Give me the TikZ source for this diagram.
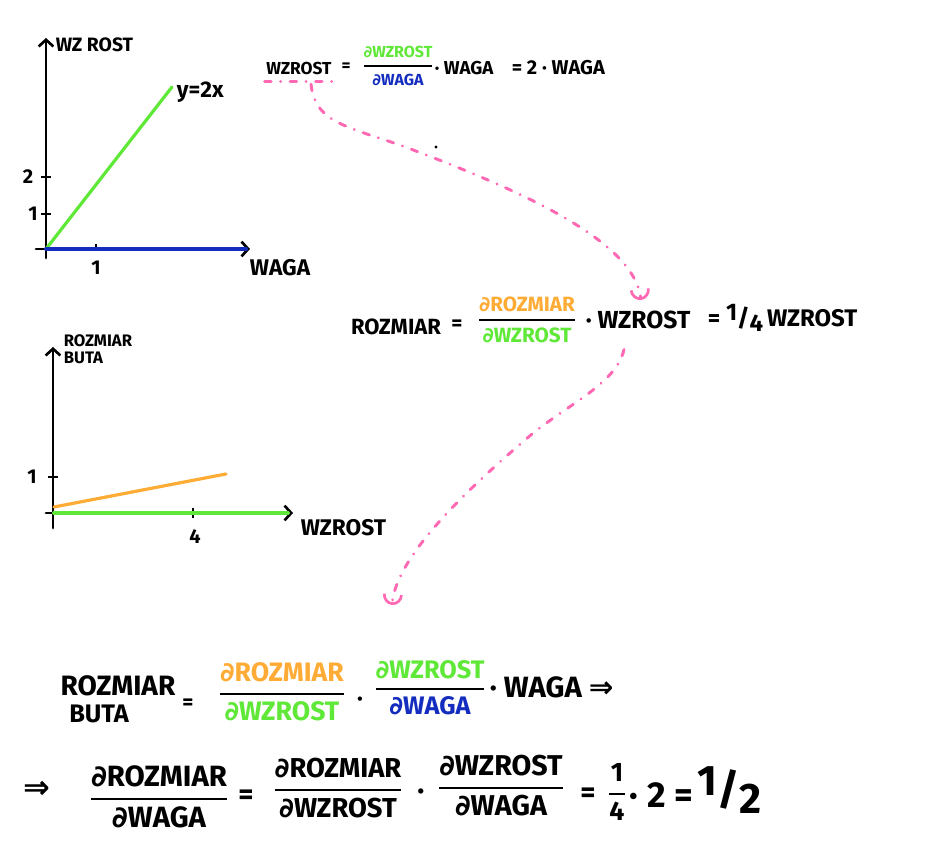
\documentclass[tikz,border=0pt]{standalone}
\usepackage{fontspec}
\usepackage{amsmath}
\setmainfont{Fira Sans}
\newfontfamily\symf{DejaVu Sans}
\usetikzlibrary{arrows.meta}
\definecolor{handgreen}{RGB}{95,232,55}
\definecolor{handblue}{RGB}{20,45,190}
\definecolor{handorange}{RGB}{255,172,55}
\definecolor{handpink}{RGB}{255,105,180}
\newcommand\pd{{\symf\bfseries ∂}}
\newcommand\hfrac[4]{$\genfrac{}{}{1.7pt}{0}{\textcolor{#3}{\text{#1}}}{\textcolor{#4}{\text{#2}}}$}
\tikzset{
  axis line/.style = {line width = 2.2pt, line cap = round, ->},
  plot line/.style = {draw = #1, line width = 2.4pt, line cap = round},
  hand/.style = {font = \fontsize{#1}{#1}\selectfont\bfseries, inner sep = 1pt},
  pink hint/.style = {handpink, line width = 2.2pt, line cap = round,
    dash pattern = on 5pt off 7pt on 0.1pt off 7pt}
}
\begin{document}
\begin{tikzpicture}[x = 0.75pt, y = -0.75pt, thick, nodes = {align = center},
  >={Straight Barb[length = 5pt, width = 11pt, line width = 2pt]}]
  \useasboundingbox (0,0) rectangle (933,848);
  % first plot
  \draw[axis line] (46,258) -- (46,38);
  \draw[axis line] (36,249) -- (250,249);
  \draw[line width = 2pt] (41,177) -- (51,177) (41,214) -- (51,214) (96,244) -- (96,249);
  \draw[plot line = handgreen] (46,249) -- (172,87);
  \draw[plot line = handblue, line width = 3pt] (46,249) -- (246,249);
  \node[hand = 14.5, anchor = west] (ylab1) at (54,45) {WZ ROST};
  \node[hand = 17, anchor = west] (fun1) at (175,92) {y=2x};
  \node[hand = 15] (tick2) at (28,177) {2};
  \node[hand = 15] (tick1) at (33,214) {1};
  \node[hand = 15] (xtick1) at (96,268) {1};
  \node[hand = 17, anchor = west] (xlab1) at (248,268) {WAGA};
  % second plot
  \draw[axis line] (53,528) -- (53,347);
  \draw[axis line] (46,513) -- (293,513);
  \draw[line width = 2pt] (48,477) -- (58,477) (193,508) -- (193,518);
  \draw[plot line = handorange] (54,507) -- (226,474);
  \draw[plot line = handgreen, line width = 3pt] (54,513) -- (288,513);
  \node[hand = 12.5, anchor = north west, align = left] (ylab2) at (62,333) {ROZMIAR\\BUTA};
  \node[hand = 15] (ytick2) at (32,477) {1};
  \node[hand = 15] (xtick2) at (195,537) {4};
  \node[hand = 17, anchor = west] (xlab2) at (299,528) {WZROST};
  % first equation
  \node[hand = 13] (e1lhs) at (299,68) {WZROST};
  \node[hand = 13] (e1eq) at (346,67) {=};
  \node[hand = 12] (e1frac) at (398,66) {\hfrac{\pd WZROST}{\pd WAGA}{handgreen}{handblue}};
  \node[hand = 14, anchor = west] (e1dot) at (433,68) {· WAGA};
  \node[hand = 15, anchor = west] (e1res) at (510,68) {= 2 · WAGA};
  % second equation
  \node[hand = 16.5] (e2lhs) at (396,327) {ROZMIAR};
  \node[hand = 16] (e2eq) at (457,325) {=};
  \node[hand = 15.5] (e2frac) at (527,320) {\hfrac{\pd ROZMIAR}{\pd WZROST}{handorange}{handgreen}};
  \node[hand = 18.5, anchor = west] (e2dot) at (584,320) {· WZROST};
  \node[hand = 18, anchor = west] (e2res) at (706,318)
    {= \raisebox{0.45ex}{1}/\raisebox{-0.45ex}{4}\,WZROST};
  % third equation
  \node[hand = 21] (e3lhs) at (118,686) {ROZMIAR};
  \node[hand = 19] (e3buta) at (99,714) {BUTA};
  \node[hand = 16] (e3eq) at (188,704) {=};
  \node[hand = 20] (e3fracA) at (282,692) {\hfrac{\pd ROZMIAR}{\pd WZROST}{handorange}{handgreen}};
  \node[hand = 18] (e3dotA) at (360,702) {·};
  \node[hand = 19] (e3fracB) at (430,688) {\hfrac{\pd WZROST}{\pd WAGA}{handgreen}{handblue}};
  \node[hand = 22, anchor = west] (e3rest) at (488,687) {· WAGA {\symf\bfseries ⇒}};
  % fourth equation
  \node[hand = 24] (e4imp) at (37,790) {\symf\bfseries ⇒};
  \node[hand = 22] (e4fracA) at (159,797) {\hfrac{\pd ROZMIAR}{\pd WAGA}{black}{black}};
  \node[hand = 22] (e4eq) at (246,797) {=};
  \node[hand = 20.5] (e4fracB) at (338,788) {\hfrac{\pd ROZMIAR}{\pd WZROST}{black}{black}};
  \node[hand = 22] (e4dot) at (421,795) {·};
  \node[hand = 21.5] (e4fracC) at (501,786) {\hfrac{\pd WZROST}{\pd WAGA}{black}{black}};
  \node[hand = 22] (e4eq2) at (588,795) {=};
  \node[hand = 20] (e4quarter) at (617,792) {\hfrac{1}{4}{black}{black}};
  \node[hand = 27, anchor = west] (e4rest) at (628,795) {· 2 =};
  \node[hand = 32] (e4half) at (730,790) {\raisebox{0.4ex}{1}/\raisebox{-0.4ex}{2}};
  % pink hints
  \coordinate (hint1) at (641,300);
  \coordinate (hint2) at (392,605);
  \draw[pink hint] ([yshift = -4pt]e1lhs.south west) -- ([yshift = -4pt]e1lhs.south east);
  \draw[pink hint, -{Arc Barb[length = 8pt, width = 15pt, line width = 2pt]}]
    ([xshift = 9pt, yshift = -6pt]e1lhs.south) .. controls (315,120) and (340,125) .. (400,145)
    .. controls (520,190) and (634,240) .. (hint1);
  \draw[pink hint, -{Arc Barb[length = 8pt, width = 15pt, line width = 2pt]}]
    ([xshift = 30pt, yshift = -14pt]e2dot.south west) .. controls (616,385) and (565,405) .. (525,440)
    .. controls (455,500) and (396,560) .. (hint2);
  \fill (436,147) circle (1.2pt);
\end{tikzpicture}
\end{document}
